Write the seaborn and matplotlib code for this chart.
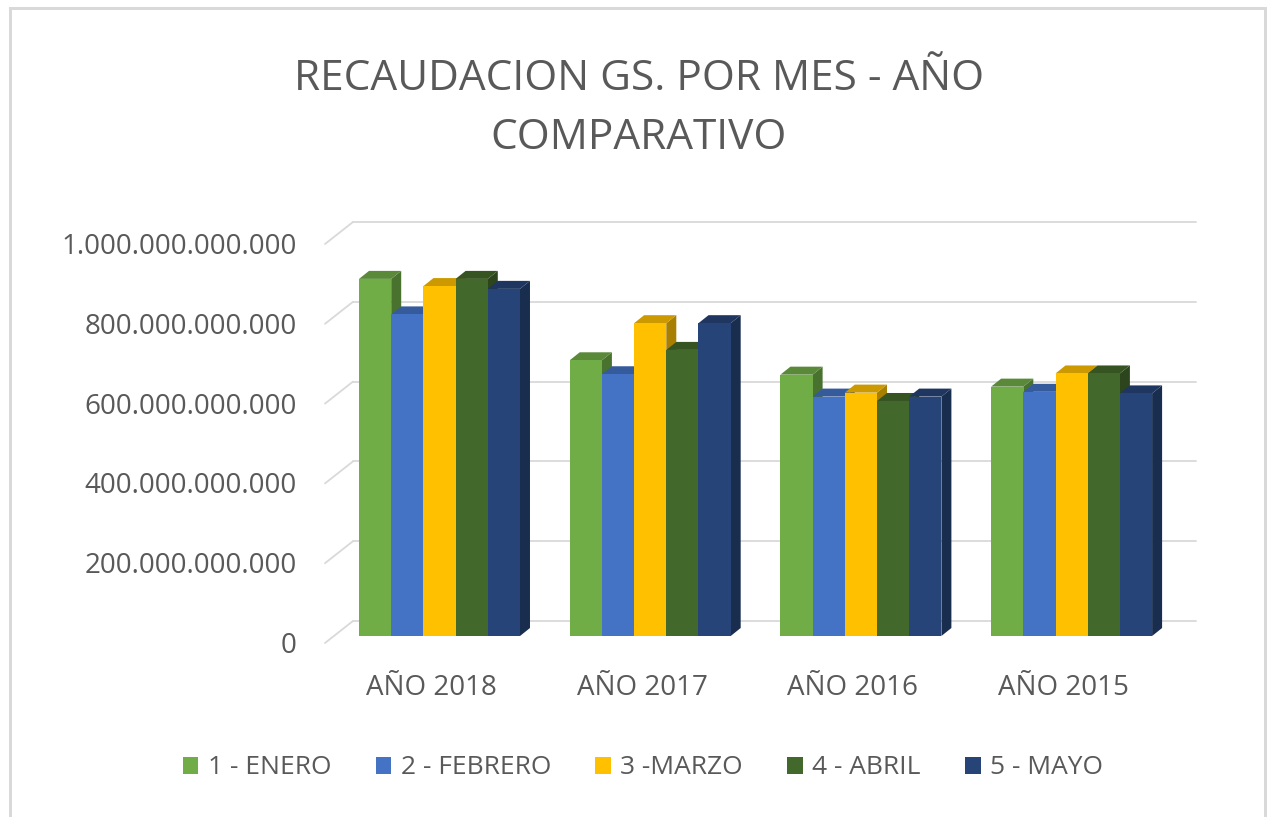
import numpy as np
import pandas as pd
import matplotlib
matplotlib.use("Agg")
import matplotlib.pyplot as plt
import seaborn as sns
from matplotlib.patches import Polygon, Rectangle, Patch
from matplotlib.lines import Line2D
import matplotlib.colors as mcolors

# ---------------- data ----------------
years = ["AÑO 2018", "AÑO 2017", "AÑO 2016", "AÑO 2015"]
months = ["1 - ENERO", "2 - FEBRERO", "3 -MARZO", "4 - ABRIL", "5 - MAYO"]
enero = [895e9, 691e9, 655e9, 625e9]
febrero = [806e9, 656e9, 600e9, 612e9]
marzo = [877e9, 784e9, 610e9, 658e9]
abril = [895e9, 717e9, 589e9, 658e9]
mayo = [870e9, 784e9, 600e9, 608e9]
colors = ["#70AD47", "#4472C4", "#FFC000", "#43682B", "#264478"]
y_ticks = [0, 200e9, 400e9, 600e9, 800e9, 1000e9]
title = "RECAUDACION GS. POR MES - AÑO\nCOMPARATIVO"

series = [enero, febrero, marzo, abril, mayo]
rows = []
for m, vals in zip(months, series):
    for yr, v in zip(years, vals):
        rows.append({"year": yr, "month": m, "value": v})
df = pd.DataFrame(rows)

# ---------------- style ----------------
sns.set_theme(style="white")
plt.rcParams["font.family"] = ["Open Sans", "DejaVu Sans"]
TXT = "#595959"
GRID = "#D9D9D9"

W, H = 1267, 817
fig = plt.figure(figsize=(W / 100, H / 100), dpi=100)
ax = fig.add_axes([325 / W, (H - 636) / H, 843 / W, 399 / H])

sns.barplot(data=df, x="year", y="value", hue="month", order=years,
            hue_order=months, palette=colors, width=0.764, gap=0,
            saturation=1, linewidth=0, ax=ax, legend=False)

xlim = (-0.5434, 3.4575)
ax.set_xlim(*xlim)
ax.set_ylim(0, 1e12)
ax.set_axis_off()

px_x = 843 / (xlim[1] - xlim[0])
px_y = 399 / 1e12

# 3D depth of bars
ddx = 10 / px_x
ddy = 8 / px_y


def shade(c, f):
    r, g, b = mcolors.to_rgb(c)
    return (r * f, g * f, b * f)


bars = [p for p in ax.patches]
for p in bars:
    x0 = p.get_x()
    w = p.get_width()
    h = p.get_height()
    fc = p.get_facecolor()
    z = 2 + (x0 + 1) * 2
    p.set_zorder(z + 0.002)
    top = Polygon([(x0, h), (x0 + w, h), (x0 + w + ddx, h + ddy), (x0 + ddx, h + ddy)],
                  closed=True, facecolor=shade(fc, 0.8), edgecolor="none",
                  zorder=z + 0.001, clip_on=False)
    side = Polygon([(x0 + w, 0), (x0 + w + ddx, ddy), (x0 + w + ddx, h + ddy), (x0 + w, h)],
                   closed=True, facecolor=shade(fc, 0.66), edgecolor="none",
                   zorder=z, clip_on=False)
    ax.add_patch(side)
    ax.add_patch(top)

# back wall gridlines + floor diagonals
gx = 28 / px_x
gy_back = 15 / px_y
gy_front = 7 / px_y
for v in y_ticks:
    ax.add_line(Line2D([xlim[0] + gx, xlim[1] + gx], [v + gy_back, v + gy_back],
                       color=GRID, lw=1.3, zorder=0.5, clip_on=False))
    ax.add_line(Line2D([xlim[0], xlim[0] + gx], [v - gy_front, v + gy_back],
                       color=GRID, lw=1.3, zorder=0.5, clip_on=False))
    lab = f"{v:,.0f}".replace(",", ".")
    ax.text(xlim[0] - 28 / px_x, v - 10 / px_y, lab, ha="right", va="center",
            fontsize=20, color=TXT, clip_on=False)

for i, yr in enumerate(years):
    ax.text(i - 8 / px_x, -52 / px_y, yr, ha="center", va="center",
            fontsize=20, color=TXT, clip_on=False)

fig.text(639 / W, 1 - 108.5 / H, title, ha="center", va="center",
         fontsize=30.5, color=TXT, linespacing=1.56)

handles = [Patch(facecolor=c, edgecolor="none") for c in colors]
fig.legend(handles, months, loc="center", bbox_to_anchor=(643 / W, 1 - 768 / H),
           ncol=5, frameon=False, fontsize=19, handlelength=0.6, handleheight=0.6,
           handletextpad=0.35, columnspacing=1.68, labelcolor=TXT)

fig.add_artist(Rectangle((9.5 / W, -0.1), (1264.5 - 9.5) / W, 1.1 - 8.5 / H,
                         transform=fig.transFigure, fill=False, edgecolor=GRID,
                         lw=3 * 0.72, zorder=10))

fig.savefig("out.png", dpi=100)
